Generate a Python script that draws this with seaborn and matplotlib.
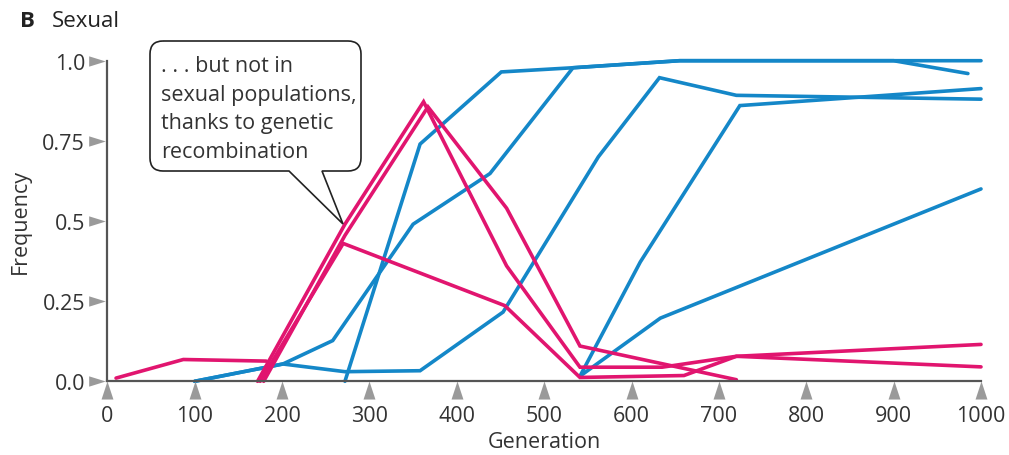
import pandas as pd
import seaborn as sns
import matplotlib.pyplot as plt
from matplotlib import transforms
from matplotlib.path import Path
from matplotlib.patches import PathPatch

# blue runs
blue_a_gen = [100, 201, 258, 350, 438, 533, 655, 900, 985]
blue_a_freq = [0.0, 0.054, 0.127, 0.49, 0.648, 0.978, 1.0, 1.0, 0.96]
blue_b_gen = [100, 201, 272, 358, 453, 562, 632, 720, 1000]
blue_b_freq = [0.0, 0.054, 0.03, 0.033, 0.216, 0.70, 0.947, 0.892, 0.88]
blue_c_gen = [272, 358, 451, 533, 655, 1000]
blue_c_freq = [0.0, 0.74, 0.965, 0.978, 1.0, 1.0]
blue_d_gen = [541, 610, 724, 1000]
blue_d_freq = [0.016, 0.372, 0.86, 0.913]
blue_e_gen = [541, 633, 1000]
blue_e_freq = [0.016, 0.197, 0.60]

# pink runs
pink_a_gen = [10, 87, 182]
pink_a_freq = [0.01, 0.068, 0.063]
pink_b_gen = [172, 272, 362, 457, 541, 635, 720, 1000]
pink_b_freq = [0.0, 0.49, 0.872, 0.36, 0.044, 0.044, 0.078, 0.115]
pink_c_gen = [179, 272, 367, 457, 541, 720]
pink_c_freq = [0.0, 0.455, 0.856, 0.54, 0.11, 0.005]
pink_d_gen = [175, 270, 455, 541, 660, 720, 1000]
pink_d_freq = [0.0, 0.43, 0.236, 0.012, 0.018, 0.078, 0.045]

x_ticks = [0, 100, 200, 300, 400, 500, 600, 700, 800, 900, 1000]
y_ticks = [0.0, 0.25, 0.5, 0.75, 1.0]
y_labels = ["0.0", "0.25", "0.5", "0.75", "1.0"]

callout_lines = [". . . but not in", "sexual populations,",
                 "thanks to genetic", "recombination"]

runs = {
    "b1": ("blue", blue_a_gen, blue_a_freq),
    "b2": ("blue", blue_b_gen, blue_b_freq),
    "b3": ("blue", blue_c_gen, blue_c_freq),
    "b4": ("blue", blue_d_gen, blue_d_freq),
    "b5": ("blue", blue_e_gen, blue_e_freq),
    "p1": ("pink", pink_a_gen, pink_a_freq),
    "p2": ("pink", pink_b_gen, pink_b_freq),
    "p3": ("pink", pink_c_gen, pink_c_freq),
    "p4": ("pink", pink_d_gen, pink_d_freq),
}
rows = []
for name, (kind, g, f) in runs.items():
    for gi, fi in zip(g, f):
        rows.append({"run": name, "kind": kind, "gen": gi, "freq": fi})
df = pd.DataFrame(rows)

sns.set_theme(style="white")
plt.rcParams["font.family"] = ["Open Sans", "DejaVu Sans"]
txt = "#333333"
axis_col = "#555555"
tri_col = "#9a9a9a"

W, H = 1009, 456
fig = plt.figure(figsize=(W / 100, H / 100), dpi=100)
ax = fig.add_axes([107.3 / W, 73.7 / H, 873.7 / W, 320.6 / H])

for kind, col in [("blue", "#1487c8"), ("pink", "#e1156f")]:
    sub = df[df["kind"] == kind]
    sns.lineplot(data=sub, x="gen", y="freq", units="run", estimator=None,
                 sort=False, color=col, lw=2.6, ax=ax, legend=False)
for ln in ax.lines:
    ln.set_clip_on(False)
    ln.set_solid_joinstyle("miter")

ax.set_xlim(0, 1000)
ax.set_ylim(0, 1.0)
sns.despine(ax=ax)
for s in ["left", "bottom"]:
    ax.spines[s].set_color(axis_col)
    ax.spines[s].set_linewidth(1.6)

ax.set_xticks(x_ticks)
ax.set_yticks(y_ticks, labels=y_labels)
ax.tick_params(axis="x", length=0, pad=17, labelsize=15.5, labelcolor=txt)
ax.tick_params(axis="y", length=3, width=1.2, color=axis_col, direction="out",
               pad=13, labelsize=15.5, labelcolor=txt)
ax.set_xlabel("Generation", fontsize=15.5, color=txt, labelpad=3.5)
ax.set_ylabel("Frequency", fontsize=15.5, color=txt, labelpad=8)

# triangle tick markers
ytri = [(-1, -0.62), (1, 0), (-1, 0.62)]
xtri = [(-0.66, -1), (0.66, -1), (0, 1)]
ytr = transforms.offset_copy(ax.get_yaxis_transform(), fig=fig, x=-10.5, units="dots")
xtr = transforms.offset_copy(ax.get_xaxis_transform(), fig=fig, y=-8.5, units="dots")
ax.plot([0] * len(y_ticks), y_ticks, ls="none", marker=ytri, ms=12, color=tri_col,
        mec="none", transform=ytr, clip_on=False)
ax.plot(x_ticks, [0] * len(x_ticks), ls="none", marker=xtri, ms=13, color=tri_col,
        mec="none", transform=xtr, clip_on=False)

# title
fig.text(20 / W, 1 - 27 / H, "B", fontsize=16, fontweight="bold", color="#222222",
         va="baseline")
fig.text(52 / W, 1 - 27 / H, "Sexual", fontsize=16, color="#222222", va="baseline")

# callout with tail (image pixel coords)
L, R, T, B, r = 150, 361, 42, 172, 13
t1, t2, tip = 289, 322, (343, 225)
pts = [(L + r, T), (R - r, T), (R, T), (R, T + r), (R, B - r), (R, B), (R - r, B),
       (t2, B), tip, (t1, B), (L + r, B), (L, B), (L, B - r), (L, T + r), (L, T),
       (L + r, T)]
codes = [Path.MOVETO, Path.LINETO, Path.CURVE3, Path.CURVE3, Path.LINETO,
         Path.CURVE3, Path.CURVE3, Path.LINETO, Path.LINETO, Path.LINETO,
         Path.LINETO, Path.CURVE3, Path.CURVE3, Path.LINETO, Path.CURVE3, Path.CURVE3]
verts = [(x, H - y) for x, y in pts]
patch = PathPatch(Path(verts, codes), facecolor="white", edgecolor="#222222",
                  lw=1.2, transform=transforms.IdentityTransform(), zorder=5)
fig.add_artist(patch)
for i, line in enumerate(callout_lines):
    fig.text(161 / W, 1 - (72 + 28.5 * i) / H, line, fontsize=15.5, color=txt,
             va="baseline", zorder=6)

fig.savefig("out.png", dpi=100)
